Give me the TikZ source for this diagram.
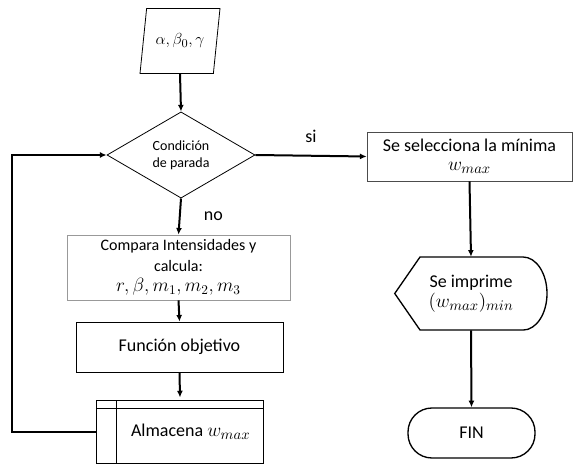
\documentclass[tikz,border=0pt]{standalone}
\usepackage{fontspec}
\setmainfont{Carlito}
\usetikzlibrary{arrows.meta,shapes.geometric}
\begin{document}
\begin{tikzpicture}[x=0.75pt,y=-0.75pt,
  flecha/.style={line width=1.5pt,-{Latex[length=5pt,width=4.5pt]}},
  grande/.style={font=\fontsize{13.5}{16}\selectfont},
  proceso/.style={draw,rectangle,line width=0.6pt,align=center,inner sep=2pt},
  decision/.style={draw,diamond,line width=0.6pt,align=center,inner sep=0pt,minimum width=111pt,minimum height=58.5pt},
  datos/.style={draw,trapezium,trapezium left angle=74,trapezium right angle=106,trapezium stretches body,line width=0.6pt,minimum width=60pt,minimum height=48.75pt},
  fin/.style={draw,rectangle,rounded corners=18pt,line width=1pt,minimum width=95.25pt,minimum height=37.5pt}]

\useasboundingbox (0,0) rectangle (574,466);

% Entrada de parametros
\node[datos] (entrada) at (180,41) {\fontsize{13}{15}\selectfont$\alpha,\beta_0,\gamma$};

% Decision
\node[decision,font=\fontsize{10.5}{13}\selectfont] (cond) at (181,155) {Condición\\de parada};

% Columna izquierda
\node[proceso,draw=black!40,minimum width=167.25pt,minimum height=48.75pt,font=\fontsize{12}{15.5}\selectfont] (compara) at (178.5,267.5)
  {Compara Intensidades y\\calcula:\\\fontsize{14}{15}\selectfont$r,\beta,m_1,m_2,m_3$};
\node[proceso,grande,minimum width=155.25pt,minimum height=37.5pt] (objetivo) at (179.5,347) {Función objetivo};
\node[proceso,grande,minimum width=125.25pt,minimum height=47.25pt] (almacena) at (180,432)
  {\hspace*{16pt}\raisebox{-5pt}{Almacena \fontsize{15}{16}\selectfont$w_{max}$}};
\draw[line width=0.6pt] ([yshift=-6pt]almacena.north west) -- ([yshift=-6pt]almacena.north east);
\draw[line width=0.6pt] ([xshift=15pt]almacena.north west) -- ([xshift=15pt]almacena.south west);

% Columna derecha
\node[proceso,grande,draw=black!70,minimum width=153.75pt,minimum height=36.75pt] (selecciona) at (469.5,156.5)
  {Se selecciona la mínima\\[-2pt]\fontsize{15}{16}\selectfont$w_{max}$};
\node[grande,align=center,minimum width=114pt,minimum height=54.75pt] (imprime) at (471,293.5)
  {Se imprime\\[-1pt]\fontsize{15}{16}\selectfont$(w_{max})_{min}$};
\draw[line width=1pt] (imprime.west) -- (420,257) -- (523,257)
  arc[start angle=90,end angle=-90,x radius=18pt,y radius=27.4pt] -- (420,330) -- cycle;
\node[fin,grande] (final) at (471.5,433) {FIN};

% Conectores
\draw[flecha] (entrada.south) -- (cond.north);
\draw[flecha] (cond.south) -- node[right,xshift=14pt,grande]{no} (compara.north);
\draw[flecha] (compara.south) -- (objetivo.north);
\draw[flecha] (objetivo.south) -- ([yshift=2pt]almacena.north);
\draw[flecha] (almacena.west) -- (12,432) -- (12,155) -- (cond.west);
\draw[flecha] (cond.east) -- node[above,yshift=6pt,grande]{si} (selecciona.west);
\draw[flecha] (selecciona.south) -- (imprime.north);
\draw[flecha] (imprime.south) -- (final.north);

\end{tikzpicture}
\end{document}
